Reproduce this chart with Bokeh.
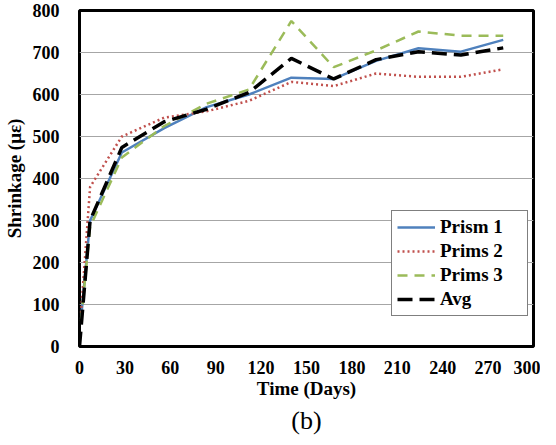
from bokeh.plotting import figure
from bokeh.models import Range1d, FixedTicker, Legend, LegendItem, Title
from bokeh.embed import file_html
from bokeh.resources import INLINE

prism_days = [1, 7, 28, 56, 84, 112, 140, 168, 196, 224, 252, 280]
avg_days = [0, 7, 28, 56, 84, 112, 140, 168, 196, 224, 252, 280]
prism1 = [65, 300, 462, 520, 570, 600, 640, 637, 680, 710, 702, 730]
prims2 = [80, 380, 500, 545, 560, 585, 630, 620, 650, 642, 642, 660]
prims3 = [60, 285, 450, 525, 578, 612, 775, 665, 705, 750, 740, 740]
avg = [0, 300, 474, 535, 565, 605, 686, 637, 683, 702, 694, 711]
x_ticks = [0, 30, 60, 90, 120, 150, 180, 210, 240, 270, 300]
y_ticks = [0, 100, 200, 300, 400, 500, 600, 700, 800]

FONT = "Liberation Serif"

p = figure(width=540, height=437, output_backend="svg", toolbar_location=None,
           x_range=Range1d(0, 300), y_range=Range1d(0, 800),
           min_border_left=73, min_border_right=7, min_border_top=10, min_border_bottom=60)

p.background_fill_color = "white"
p.border_fill_color = "white"
p.outline_line_color = "black"
p.outline_line_width = 3

p.xgrid.grid_line_color = None
p.ygrid.grid_line_color = "#A6A6A6"
p.ygrid.grid_line_width = 1
p.ygrid.ticker = FixedTicker(ticks=y_ticks)

for ax in (p.xaxis[0], p.yaxis[0]):
    ax.axis_line_color = None
    ax.major_tick_line_color = None
    ax.minor_tick_line_color = None
    ax.major_tick_out = 0
    ax.major_tick_in = 0
    ax.minor_tick_out = 0
    ax.major_label_text_font = FONT
    ax.major_label_text_font_style = "bold"
    ax.major_label_text_font_size = "18px"
    ax.major_label_text_color = "black"
    ax.axis_label_text_font = FONT
    ax.axis_label_text_font_style = "bold"
    ax.axis_label_text_font_size = "19px"
    ax.axis_label_text_color = "black"

p.xaxis.ticker = FixedTicker(ticks=x_ticks)
p.yaxis.ticker = FixedTicker(ticks=y_ticks)
p.xaxis.axis_label = "Time (Days)"
p.yaxis.axis_label = "Shrinkage (με)"
p.xaxis.major_label_standoff = 14
p.xaxis.axis_label_standoff = 1
p.yaxis.major_label_standoff = 20
p.yaxis.axis_label_standoff = 5

r1 = p.line(prism_days, prism1, line_color="#4F81BD", line_width=2.5)
r2 = p.line(prism_days, prims2, line_color="#C0504D", line_width=2.5, line_dash="2 3")
r3 = p.line(prism_days, prims3, line_color="#9BBB59", line_width=2.5, line_dash="10 7")
r4 = p.line(avg_days, avg, line_color="black", line_width=3.5, line_dash="15 7")

legend = Legend(items=[
    LegendItem(label="Prism 1", renderers=[r1]),
    LegendItem(label="Prims 2", renderers=[r2]),
    LegendItem(label="Prims 3", renderers=[r3]),
    LegendItem(label="Avg", renderers=[r4]),
], location=(312, 30))
legend.label_text_font = FONT
legend.label_text_font_style = "bold"
legend.label_text_font_size = "19px"
legend.label_text_color = "black"
legend.glyph_width = 38
legend.label_standoff = 5
legend.label_width = 82
legend.label_height = 20
legend.glyph_height = 20
legend.spacing = 2
legend.padding = 5
legend.margin = 0
legend.border_line_color = "black"
legend.border_line_width = 1.5
legend.background_fill_alpha = 1
p.add_layout(legend, "center")

t = Title(text="(b)", align="center", text_font=FONT, text_font_style="normal",
          text_font_size="26px", text_color="black", standoff=5)
p.add_layout(t, "below")

open("out.html", "w").write(file_html(p, INLINE))
